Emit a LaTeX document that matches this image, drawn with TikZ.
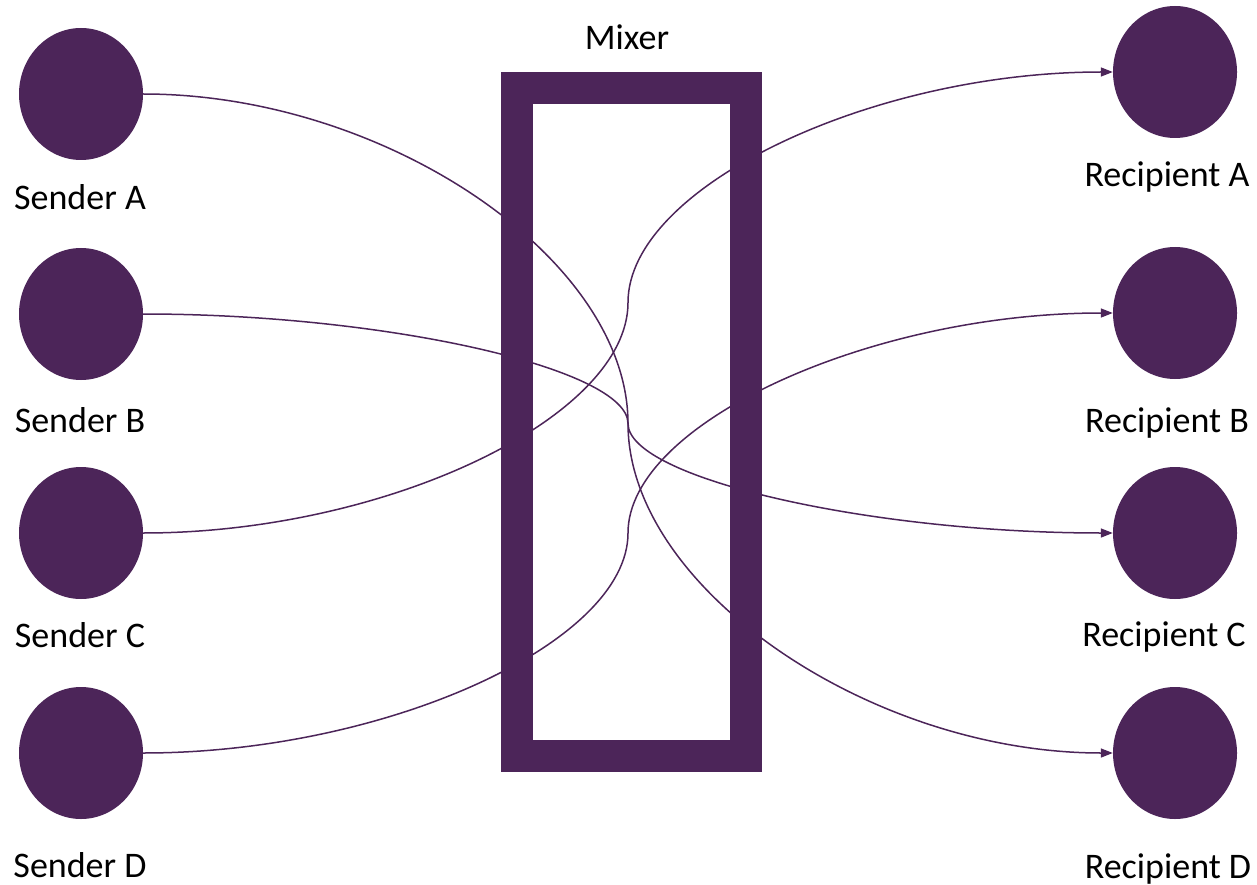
\documentclass[tikz,border=0pt]{standalone}
\usepackage{fontspec}
\setmainfont{Carlito}
\usetikzlibrary{shapes.geometric,arrows.meta,calc}
\definecolor{mixpurple}{RGB}{76,37,89}
\tikzset{
  party/.style={ellipse, fill=mixpurple, draw=none, minimum width=124pt, minimum height=132pt, inner sep=0pt},
  lbl/.style={font=\fontsize{36}{42}\selectfont, text=black, anchor=base, inner sep=0pt},
  conn/.style={draw=mixpurple, line width=1.5pt, -{Triangle[length=12pt,width=9pt]}},
  pptcurve/.style={to path={
    let \p1=(\tikztostart), \p2=(\tikztotarget) in
    .. controls ({\x1+(\x2-\x1)/4},\y1) and ({(\x1+\x2)/2},{\y1+(\y2-\y1)/4}) ..
    ({(\x1+\x2)/2},{(\y1+\y2)/2})
    .. controls ({(\x1+\x2)/2},{\y1+3*(\y2-\y1)/4}) and ({\x1+3*(\x2-\x1)/4},\y2) ..
    (\tikztotarget) \tikztonodes}},
  mixerbox/.style={draw=mixpurple, line width=32pt, minimum width=229pt, minimum height=668pt, inner sep=0pt}
}
\begin{document}
\begin{tikzpicture}[x=1pt,y=-1pt]
\useasboundingbox (0,0) rectangle (1257,885);
% senders
\node[party] (sa) at (81,94) {};
\node[party] (sb) at (81,314) {};
\node[party] (sc) at (81,533) {};
\node[party] (sd) at (81,753) {};
% recipients
\node[party] (ra) at (1175,72) {};
\node[party] (rb) at (1175,313) {};
\node[party] (rc) at (1175,533) {};
\node[party] (rd) at (1175,753) {};
% labels
\node[lbl] (lsa) at (80,210) {Sender A};
\node[lbl] (lsb) at (80,432) {Sender B};
\node[lbl] (lsc) at (80,647) {Sender C};
\node[lbl] (lsd) at (80,877) {Sender D};
\node[lbl] (lra) at (1167,187) {Recipient A};
\node[lbl] (lrb) at (1167,432) {Recipient B};
\node[lbl] (lrc) at (1164,646) {Recipient C};
\node[lbl] (lrd) at (1168,878) {Recipient D};
% connectors
\draw[conn] (sa.east) to[pptcurve] (rd.west);
\draw[conn] (sb.east) to[pptcurve] (rc.west);
\draw[conn] (sc.east) to[pptcurve] (ra.west);
\draw[conn] (sd.east) to[pptcurve] (rb.west);
% mixer on top
\node[mixerbox] (mixer) at (631.5,422) {};
\node[lbl] (lmix) at (627,50) {Mixer};
\end{tikzpicture}
\end{document}
